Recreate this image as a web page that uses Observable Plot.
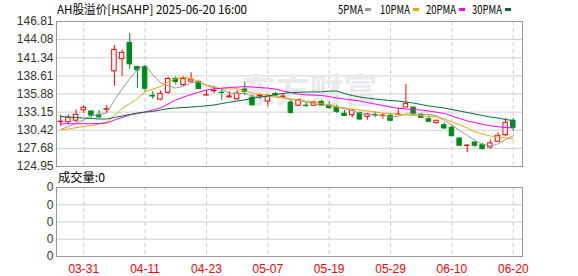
<!DOCTYPE html>
<html><head><meta charset="utf-8">
<script src="https://cdn.jsdelivr.net/npm/d3@7"></script>
<script src="https://cdn.jsdelivr.net/npm/@observablehq/plot@0.6"></script>
<style>
html,body{margin:0;padding:0;background:#fff;}
#wrap{position:relative;width:578px;height:276px;overflow:hidden;background:#fff;}
#main{position:absolute;left:0;top:0;}
#vol{position:absolute;left:0;top:168px;}
#overlay{position:absolute;left:0;top:0;pointer-events:none;}
</style></head>
<body><div id="wrap"><div id="main"></div><div id="vol"></div></div>
<script>
// ---- data ----
const title = "AH股溢价[HSAHP] 2025-06-20 16:00";
const volTitle = "成交量:0";
const dates = ["03-26","03-27","03-28","03-31","04-01","04-02","04-03","04-07","04-08","04-09",
  "04-10","04-11","04-14","04-15","04-16","04-17","04-18","04-21","04-22","04-23",
  "04-24","04-25","04-28","04-29","04-30","05-02","05-06","05-07","05-08","05-09",
  "05-12","05-13","05-14","05-15","05-16","05-19","05-20","05-21","05-22","05-23",
  "05-26","05-27","05-28","05-29","05-30","06-02","06-03","06-04","06-05","06-06",
  "06-09","06-10","06-11","06-12","06-13","06-16","06-17","06-18","06-19","06-20"];
const open = [131.65,131.61,131.85,133.42,133.24,132.74,133.50,139.30,141.14,143.59,
  139.96,139.96,135.60,135.04,136.07,138.17,137.22,137.75,137.68,135.65,
  136.30,136.08,135.37,135.09,136.55,135.31,135.57,134.74,135.87,135.45,
  134.59,134.11,134.12,134.11,134.67,134.06,133.81,132.91,132.67,133.01,
  132.43,132.74,132.56,132.59,132.73,133.84,133.84,132.74,132.08,131.48,
  131.18,130.78,129.17,128.05,128.57,128.17,127.82,128.68,129.67,131.84];
const high = [132.70,132.71,133.46,134.10,133.31,133.39,134.17,143.20,142.52,145.00,
  140.00,140.16,136.25,136.35,138.43,138.43,138.47,139.08,137.95,136.44,
  137.04,136.70,136.20,136.44,137.60,135.69,135.84,135.80,136.13,135.84,
  134.97,135.09,134.59,134.79,134.94,134.70,134.18,133.43,133.54,133.19,
  132.94,133.19,132.94,132.94,133.69,137.30,133.91,132.94,132.59,131.93,
  131.54,131.18,129.32,128.23,128.60,128.42,128.92,130.03,132.19,132.19];
const low = [130.98,131.28,131.58,132.97,132.26,132.20,132.97,137.04,138.55,139.60,
  136.70,136.17,135.09,134.86,135.80,137.22,137.03,137.56,136.55,135.60,
  135.95,134.94,135.30,134.94,135.64,134.06,135.09,134.02,135.45,135.19,
  132.83,133.99,133.79,134.00,134.05,133.58,132.94,132.50,132.29,131.93,
  131.93,132.29,132.08,131.78,132.59,133.81,132.59,132.19,131.65,131.33,
  130.57,129.43,128.02,127.02,127.82,127.41,127.57,128.57,129.43,130.27];
const close = [131.70,132.29,132.74,133.81,132.63,132.36,133.57,142.52,142.09,140.35,
  139.45,136.67,135.50,135.90,138.14,137.68,138.13,138.05,136.62,135.70,
  136.36,136.03,135.51,135.95,136.17,134.17,135.64,135.49,135.64,135.49,
  133.04,134.97,134.06,134.59,134.14,133.76,133.18,132.56,133.31,132.03,
  132.79,132.68,132.62,131.84,132.79,134.41,132.83,132.29,131.69,131.84,
  130.68,129.52,128.08,128.10,128.08,127.57,128.42,129.58,131.54,130.78];
const ma5 = [130.53,130.98,131.51,131.96,132.63,132.77,133.02,134.98,136.63,138.18,
  139.60,140.22,138.81,137.57,137.13,136.78,137.07,137.58,137.72,137.24,
  136.97,136.55,136.04,135.91,136.00,135.57,135.49,135.48,135.42,135.29,
  135.06,134.93,134.64,134.43,134.16,134.30,133.95,133.65,133.39,132.97,
  132.77,132.67,132.69,132.39,132.54,132.87,132.90,132.83,132.80,132.61,
  131.87,131.20,130.36,129.64,128.89,128.27,128.05,128.35,129.04,129.58];
const ma10 = [130.53,130.58,130.79,130.98,131.13,131.36,131.66,132.64,133.69,134.44,
  135.19,136.25,136.62,137.00,137.68,138.20,138.43,138.20,137.75,137.15,
  136.77,136.70,136.62,136.70,136.32,136.02,135.87,135.72,135.57,135.34,
  135.12,134.97,134.82,134.67,134.44,134.14,133.95,133.80,133.61,133.46,
  133.31,133.16,133.01,132.89,132.79,132.71,132.64,132.59,132.53,132.41,
  132.11,131.66,131.21,130.76,130.15,129.85,129.55,129.40,129.25,129.13];
const ma20 = [131.39,131.39,131.39,131.40,131.40,131.43,131.51,131.96,132.34,132.71,
  132.94,133.16,133.46,133.76,134.37,134.97,135.42,135.80,136.17,136.47,
  136.65,136.77,136.85,136.92,137.00,136.92,136.85,136.77,136.62,136.32,
  136.10,135.87,135.75,135.72,135.65,135.50,135.27,135.12,134.97,134.82,
  134.59,134.37,134.14,133.92,133.73,133.61,133.54,133.46,133.31,133.13,
  132.94,132.56,132.19,131.81,131.58,131.28,131.09,130.95,130.83,130.76];
const ma30 = [132.49,132.41,132.34,132.26,132.19,132.11,132.11,132.34,132.56,132.79,
  133.01,133.16,133.24,133.46,133.69,133.76,133.84,133.92,133.99,134.10,
  134.22,134.44,134.64,134.82,135.00,135.19,135.42,135.57,135.80,135.95,
  136.10,136.14,136.17,136.20,136.20,136.32,136.32,135.95,135.65,135.42,
  135.27,135.12,135.00,134.89,134.82,134.67,134.52,134.29,134.07,133.92,
  133.76,133.54,133.31,133.09,132.86,132.64,132.41,132.26,132.03,131.88];
const yTicks = [124.95,127.68,130.42,133.15,135.88,138.61,141.34,144.08,146.81];
const xTickDates = ["03-31","04-11","04-23","05-07","05-19","05-29","06-10","06-20"];
const volTicks = [0,1,2,3,4];
const volTickLabels = ["0","0","0","0","0"];
const maNames = ["5PMA","10PMA","20PMA","30PMA"];
const maColors = ["#9c9c9c","#f2a60c","#ff00ff","#00703a"];
const upColor = "#ff0000", downColor = "#008a1e";

// ---- build tables ----
const candles = dates.map((d,i)=>({i, date:d, open:open[i], high:high[i], low:low[i], close:close[i]}));
const ups = candles.filter(d=>d.close>=d.open);
const downs = candles.filter(d=>d.close<d.open);
const maSeries = [ma5, ma10, ma20, ma30];
const xTickIdx = xTickDates.map(d=>dates.indexOf(d));
const half = 0.29;
const xScale = {type:"linear", domain:[-0.55, 60.2], axis:null};
const font = "'Liberation Sans', Arial, sans-serif";

const main = Plot.plot({
  width:578, height:168, marginLeft:56, marginRight:56, marginTop:21, marginBottom:2,
  x: xScale,
  y: {domain:[124.95,146.81], axis:null},
  style:{background:"transparent", fontFamily:font, fontSize:"12px", overflow:"visible"},
  marks:[
    Plot.ruleY(yTicks,{stroke:"#cfcfcf"}),
    Plot.ruleX(xTickIdx,{stroke:"#cccccc", strokeDasharray:"4,3"}),
    Plot.text(["东方财富"],{frameAnchor:"middle", dx:20, dy:-2, fontSize:34, fontWeight:"bold",
      fill:"#e9e9ee", fontFamily:"'Noto Sans CJK SC', sans-serif"}),
    Plot.axisY(yTicks,{tickSize:0, tickPadding:3, tickFormat:d=>d.toFixed(2), fill:"#333", fontSize:12}),
    Plot.ruleX(ups,{x:"i", y1:"low", y2:"high", stroke:upColor}),
    Plot.ruleX(downs,{x:"i", y1:"low", y2:"high", stroke:downColor}),
    Plot.rect(ups,{x1:d=>d.i-half, x2:d=>d.i+half, y1:"open", y2:"close", fill:"white", stroke:upColor}),
    Plot.rect(downs,{x1:d=>d.i-half, x2:d=>d.i+half, y1:"open", y2:"close", fill:downColor, stroke:downColor}),
    ...maSeries.map((s,k)=>Plot.line(s,{x:(d,i)=>i, y:d=>d, stroke:maColors[k], strokeWidth:1})),
    Plot.frame({stroke:"#999"})
  ]
});
document.getElementById("main").appendChild(main);

const vol = Plot.plot({
  width:578, height:108, marginLeft:56, marginRight:56, marginTop:19, marginBottom:20,
  x: xScale,
  y: {domain:[0,4], axis:null},
  style:{background:"transparent", fontFamily:font, fontSize:"12px", overflow:"visible"},
  marks:[
    Plot.ruleY(volTicks,{stroke:"#cfcfcf"}),
    Plot.ruleX(xTickIdx,{stroke:"#cccccc", strokeDasharray:"4,3"}),
    Plot.axisY(volTicks,{tickSize:0, tickPadding:3, tickFormat:d=>volTickLabels[d], fill:"#333", fontSize:12}),
    Plot.axisX(xTickIdx,{tickSize:0, tickPadding:8, tickFormat:d=>dates[d], fill:"#ff0000", fontSize:12}),
    Plot.frame({stroke:"#999"})
  ]
});
document.getElementById("vol").appendChild(vol);

// ---- title, legend, volume caption ----
const ov = d3.select("#wrap").append("svg").attr("id","overlay").attr("width",578).attr("height",276)
  .style("font-family","'Noto Sans CJK SC', sans-serif").style("font-size","12px");
ov.append("text").attr("x",57).attr("y",14).attr("textLength",190).attr("lengthAdjust","spacingAndGlyphs")
  .attr("fill","#000").text(title);
const legX = [338,380,426,472], legW = [25,30,30,30], swX = [365,413,459,505];
maNames.forEach((n,k)=>{
  ov.append("text").attr("x",legX[k]).attr("y",14).attr("textLength",legW[k]).attr("lengthAdjust","spacingAndGlyphs")
    .attr("fill","#000").text(n);
  ov.append("rect").attr("x",swX[k]).attr("y",8).attr("width",6).attr("height",3).attr("fill",maColors[k]);
});
ov.append("text").attr("x",58).attr("y",182).attr("textLength",47).attr("lengthAdjust","spacingAndGlyphs")
  .attr("fill","#000").text(volTitle);
</script>
</body></html>
